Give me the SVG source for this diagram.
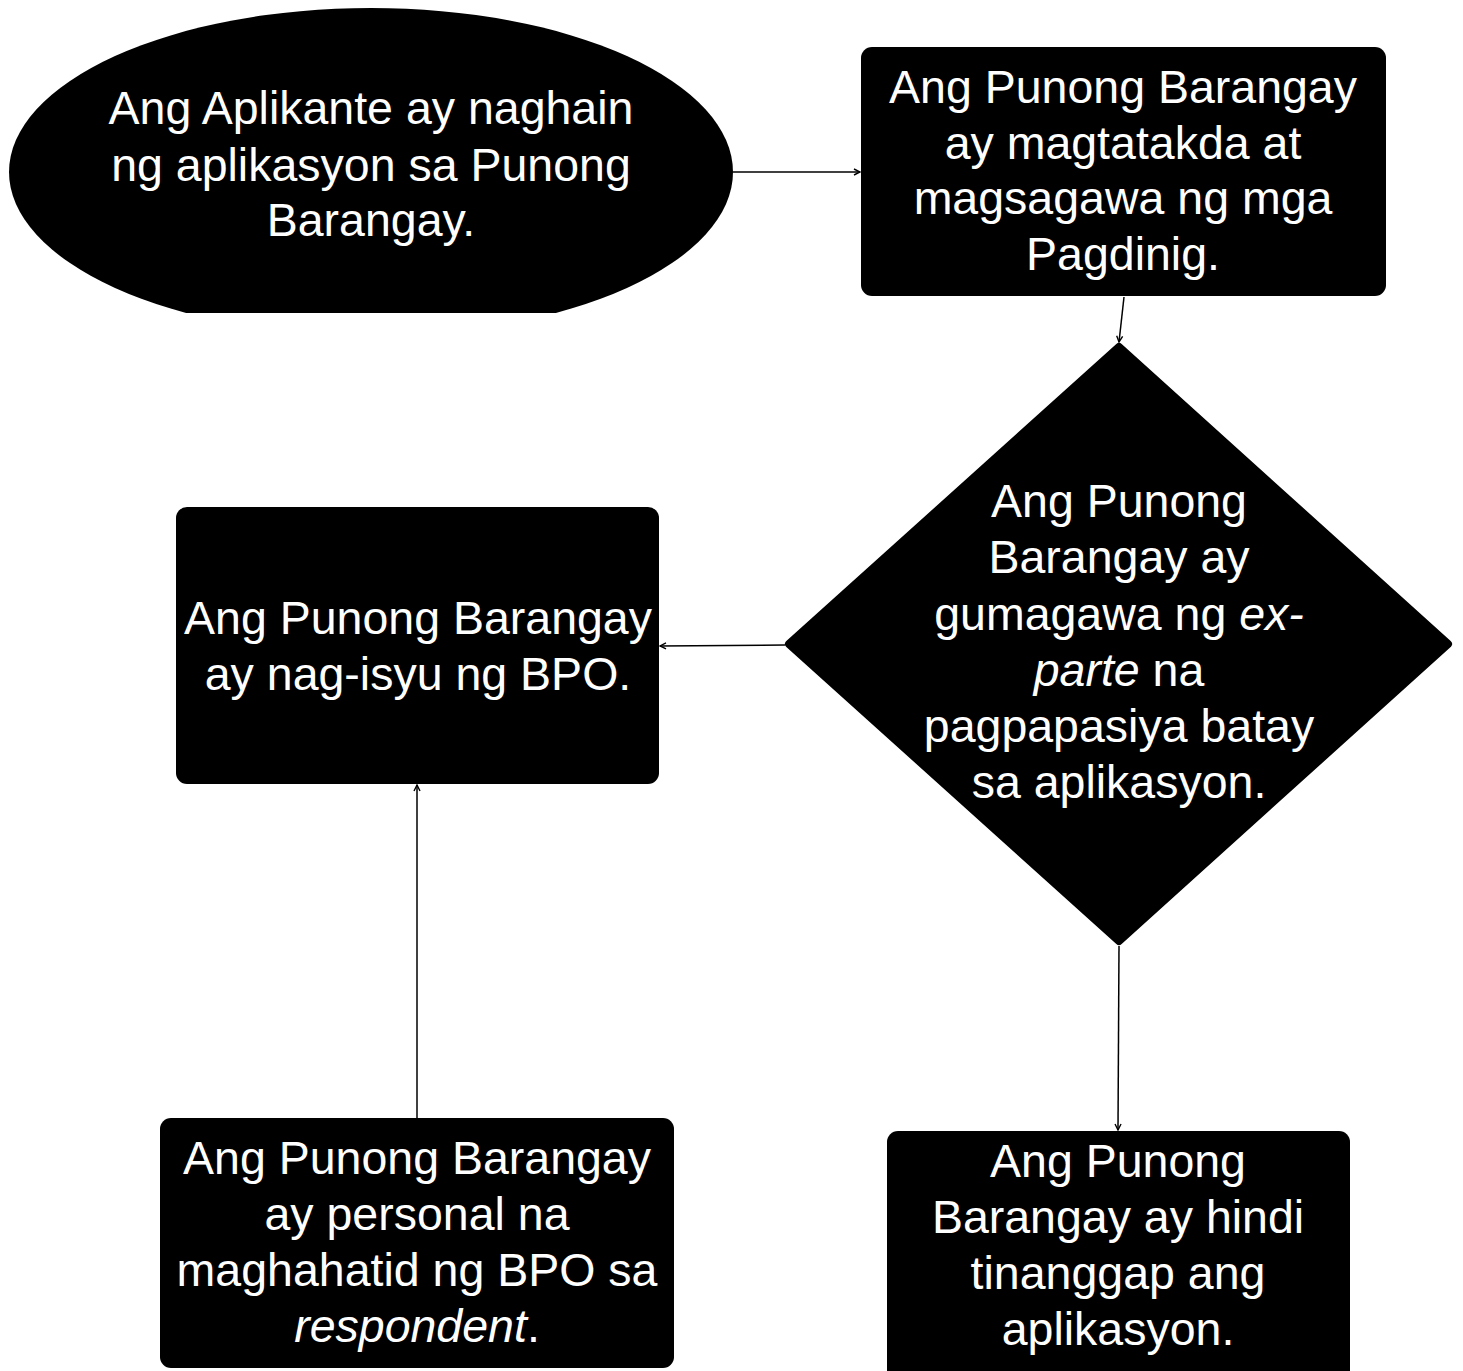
<svg xmlns="http://www.w3.org/2000/svg" width="1463" height="1371" viewBox="0 0 1463 1371">
<style>
.node{fill:#000}
.t{font-family:"Liberation Sans",Arial,sans-serif;font-size:46.5px;fill:#fff;text-anchor:middle}
.c{stroke:#000;stroke-width:1.5;fill:none;marker-end:url(#ah)}
</style>
<defs>
<marker id="ah" viewBox="0 0 8 8" refX="7" refY="4" markerWidth="8" markerHeight="8" markerUnits="userSpaceOnUse" orient="auto">
<path d="M1,1 L7,4 L1,7" fill="none" stroke="#000" stroke-width="1.4"/>
</marker>
<clipPath id="clipE"><rect x="0" y="0" width="760" height="313"/></clipPath>
</defs>
<rect width="1463" height="1371" fill="#fff"/>
<g id="connectors">
<path class="c" d="M733,172 L860,172"/>
<path class="c" d="M1124,297 L1119,342"/>
<path class="c" d="M785,645 L660,646"/>
<path class="c" d="M417,1118 L417,785"/>
<path class="c" d="M1119,946 L1118,1130"/>
</g>
<g id="n1">
<ellipse class="node" cx="371" cy="172" rx="362" ry="164" clip-path="url(#clipE)"/>
<text class="t" x="371" y="124" font-size="48.5">Ang Aplikante ay naghain</text>
<text class="t" x="371" y="181" font-size="48.5">ng aplikasyon sa Punong</text>
<text class="t" x="371" y="236" font-size="48.5">Barangay.</text>
</g>
<g id="n2">
<rect class="node" x="861" y="47" width="525" height="249" rx="11"/>
<text class="t" x="1123" y="103">Ang Punong Barangay</text>
<text class="t" x="1123" y="159">ay magtatakda at</text>
<text class="t" x="1123" y="214">magsagawa ng mga</text>
<text class="t" x="1123" y="270">Pagdinig.</text>
</g>
<g id="n3">
<polygon class="node" points="1119,347 1448,644 1119,941 789,644" stroke="#000" stroke-width="8" stroke-linejoin="round"/>
<text class="t" x="1119" y="517">Ang Punong</text>
<text class="t" x="1119" y="573">Barangay ay</text>
<text class="t" x="1119" y="630">gumagawa ng <tspan font-style="italic">ex-</tspan></text>
<text class="t" x="1119" y="686"><tspan font-style="italic">parte</tspan> na</text>
<text class="t" x="1119" y="742">pagpapasiya batay</text>
<text class="t" x="1119" y="798">sa aplikasyon.</text>
</g>
<g id="n4">
<rect class="node" x="176" y="507" width="483" height="277" rx="11"/>
<text class="t" x="418" y="634">Ang Punong Barangay</text>
<text class="t" x="418" y="690">ay nag-isyu ng BPO.</text>
</g>
<g id="n5">
<rect class="node" x="160" y="1118" width="514" height="250" rx="11"/>
<text class="t" x="417" y="1174">Ang Punong Barangay</text>
<text class="t" x="417" y="1230">ay personal na</text>
<text class="t" x="417" y="1286">maghahatid ng BPO sa</text>
<text class="t" x="417" y="1342"><tspan font-style="italic">respondent</tspan>.</text>
</g>
<g id="n6">
<rect class="node" x="887" y="1131" width="463" height="260" rx="11"/>
<text class="t" x="1118" y="1177">Ang Punong</text>
<text class="t" x="1118" y="1233">Barangay ay hindi</text>
<text class="t" x="1118" y="1289">tinanggap ang</text>
<text class="t" x="1118" y="1345">aplikasyon.</text>
</g>
</svg>
